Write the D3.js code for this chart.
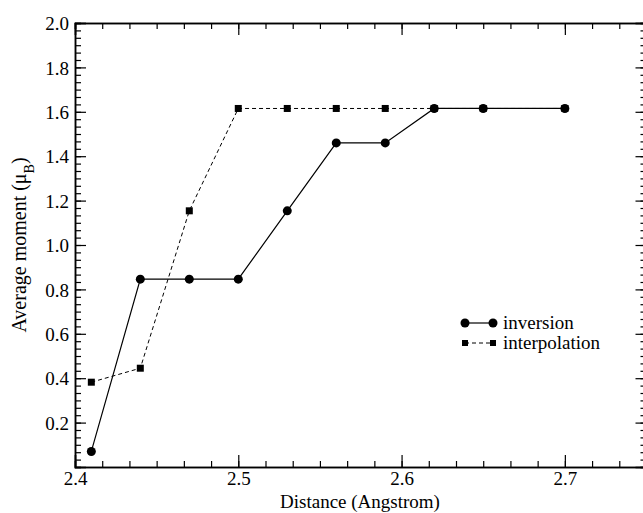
<!DOCTYPE html>
<html>
<head>
<meta charset="utf-8">
<script src="https://cdn.jsdelivr.net/npm/d3@7"></script>
<style>
  body { margin: 0; background: #fff; }
</style>
</head>
<body>
<div id="container"></div>
<script>
/* DATA */
const distance = [2.41, 2.44, 2.47, 2.50, 2.53, 2.56, 2.59, 2.62, 2.65, 2.70];
const inversion = [0.07, 0.846, 0.846, 0.846, 1.154, 1.46, 1.46, 1.615, 1.615, 1.615];
const interpolation = [0.382, 0.445, 1.154, 1.615, 1.615, 1.615, 1.615, 1.615, 1.615, 1.615];
const xTicks = [2.4, 2.5, 2.6, 2.7];
const yTicks = [0.2, 0.4, 0.6, 0.8, 1.0, 1.2, 1.4, 1.6, 1.8, 2.0];

/* CONSTANTS */
const width = 643, height = 513,
  margin = { top: 23, bottom: 46, left: 75, right: -3.5 };
const FONT = "'Liberation Serif', 'Times New Roman', Times, serif";

const svg = d3.select("#container")
  .append("svg")
  .attr("width", width)
  .attr("height", height)
  .attr("font-family", FONT);

// SCALES
const xScale = d3.scaleLinear()
  .domain([2.4, 2.75])
  .range([margin.left, width - margin.right]);

const yScale = d3.scaleLinear()
  .domain([0, 2])
  .range([height - margin.bottom, margin.top]);

// minor ticks: 6 intervals per major step
const xMinor = d3.range(0, 22).map(i => 2.4 + i * 0.1 / 6).filter(v => v < 2.75);
const yMinor = d3.range(0, 61).map(i => i * 0.2 / 6).filter(v => v <= 2);

function axisGroup(axis, tx, ty) {
  const g = svg.append("g")
    .attr("transform", `translate(${tx},${ty})`)
    .call(axis)
    .attr("font-family", FONT);
  g.select(".domain").attr("stroke-width", 1.5);
  g.selectAll(".tick line").attr("stroke-width", 1.2);
  return g;
}

const x0 = height - margin.bottom, y0 = margin.left;

// minor ticks (no labels)
axisGroup(d3.axisBottom(xScale).tickValues(xMinor).tickSize(-6).tickFormat(""), 0, x0);
axisGroup(d3.axisTop(xScale).tickValues(xMinor).tickSize(-6).tickFormat(""), 0, margin.top);
axisGroup(d3.axisLeft(yScale).tickValues(yMinor).tickSize(-6).tickFormat(""), y0, 0);
axisGroup(d3.axisRight(yScale).tickValues(yMinor).tickSize(-6).tickFormat(""), width - margin.right, 0);

// major ticks
const xAxis = axisGroup(d3.axisBottom(xScale).tickValues(xTicks).tickSize(-12).tickPadding(5).tickFormat(d3.format(".1f")), 0, x0);
axisGroup(d3.axisTop(xScale).tickValues(xTicks).tickSize(-12).tickFormat(""), 0, margin.top);
const yAxis = axisGroup(d3.axisLeft(yScale).tickValues(yTicks).tickSize(-11).tickPadding(6).tickFormat(d3.format(".1f")), y0, 0);
axisGroup(d3.axisRight(yScale).tickValues(yTicks).tickSize(-11).tickFormat(""), width - margin.right, 0);

xAxis.selectAll("text").style("font-size", "19px").style("font-family", FONT).attr("fill", "#000");
yAxis.selectAll("text").style("font-size", "19px").style("font-family", FONT).attr("fill", "#000").attr("dy", "0.35em");

// LINES
const line = d3.line()
  .x((d, i) => xScale(distance[i]))
  .y(d => yScale(d));

svg.append("path")
  .datum(interpolation)
  .attr("d", line)
  .attr("fill", "none")
  .attr("stroke", "#000")
  .attr("stroke-width", 1)
  .attr("stroke-dasharray", "4,3");

svg.append("path")
  .datum(inversion)
  .attr("d", line)
  .attr("fill", "none")
  .attr("stroke", "#000")
  .attr("stroke-width", 1.2);

svg.selectAll("rect.interp")
  .data(interpolation)
  .join("rect")
  .attr("class", "interp")
  .attr("x", (d, i) => xScale(distance[i]) - 3.5)
  .attr("y", d => yScale(d) - 3.5)
  .attr("width", 7)
  .attr("height", 7)
  .attr("fill", "#000");

svg.selectAll("circle.inv")
  .data(inversion)
  .join("circle")
  .attr("class", "inv")
  .attr("cx", (d, i) => xScale(distance[i]))
  .attr("cy", d => yScale(d))
  .attr("r", 4.5)
  .attr("fill", "#000");

// LEGEND
const legend = svg.append("g").attr("transform", "translate(465,323)");
legend.append("line").attr("x1", 0).attr("x2", 28).attr("stroke", "#000").attr("stroke-width", 1.2);
legend.append("circle").attr("cx", 0).attr("r", 4.5);
legend.append("circle").attr("cx", 28).attr("r", 4.5);
legend.append("text").attr("x", 38).attr("dy", "0.32em").style("font-size", "19px").style("font-family", FONT).text("inversion");

legend.append("line").attr("x1", 0).attr("x2", 28).attr("y1", 20).attr("y2", 20)
  .attr("stroke", "#000").attr("stroke-dasharray", "4,3");
legend.append("rect").attr("x", -3).attr("y", 17).attr("width", 6).attr("height", 6);
legend.append("rect").attr("x", 25).attr("y", 17).attr("width", 6).attr("height", 6);
legend.append("text").attr("x", 38).attr("y", 20).attr("dy", "0.32em").style("font-size", "19px").style("font-family", FONT).text("interpolation");

// AXIS LABELS
svg.append("text")
  .attr("x", 360)
  .attr("y", 508)
  .attr("text-anchor", "middle")
  .style("font-size", "19px")
  .style("font-family", FONT)
  .text("Distance (Angstrom)");

const yl = svg.append("text")
  .attr("transform", `translate(26,${(margin.top + height - margin.bottom) / 2}) rotate(-90)`)
  .attr("text-anchor", "middle")
  .style("font-size", "20px")
  .style("font-family", FONT);
yl.append("tspan").text("Average moment (μ");
yl.append("tspan").attr("baseline-shift", "sub").style("font-size", "14px").text("B");
yl.append("tspan").text(")");
</script>
</body>
</html>
